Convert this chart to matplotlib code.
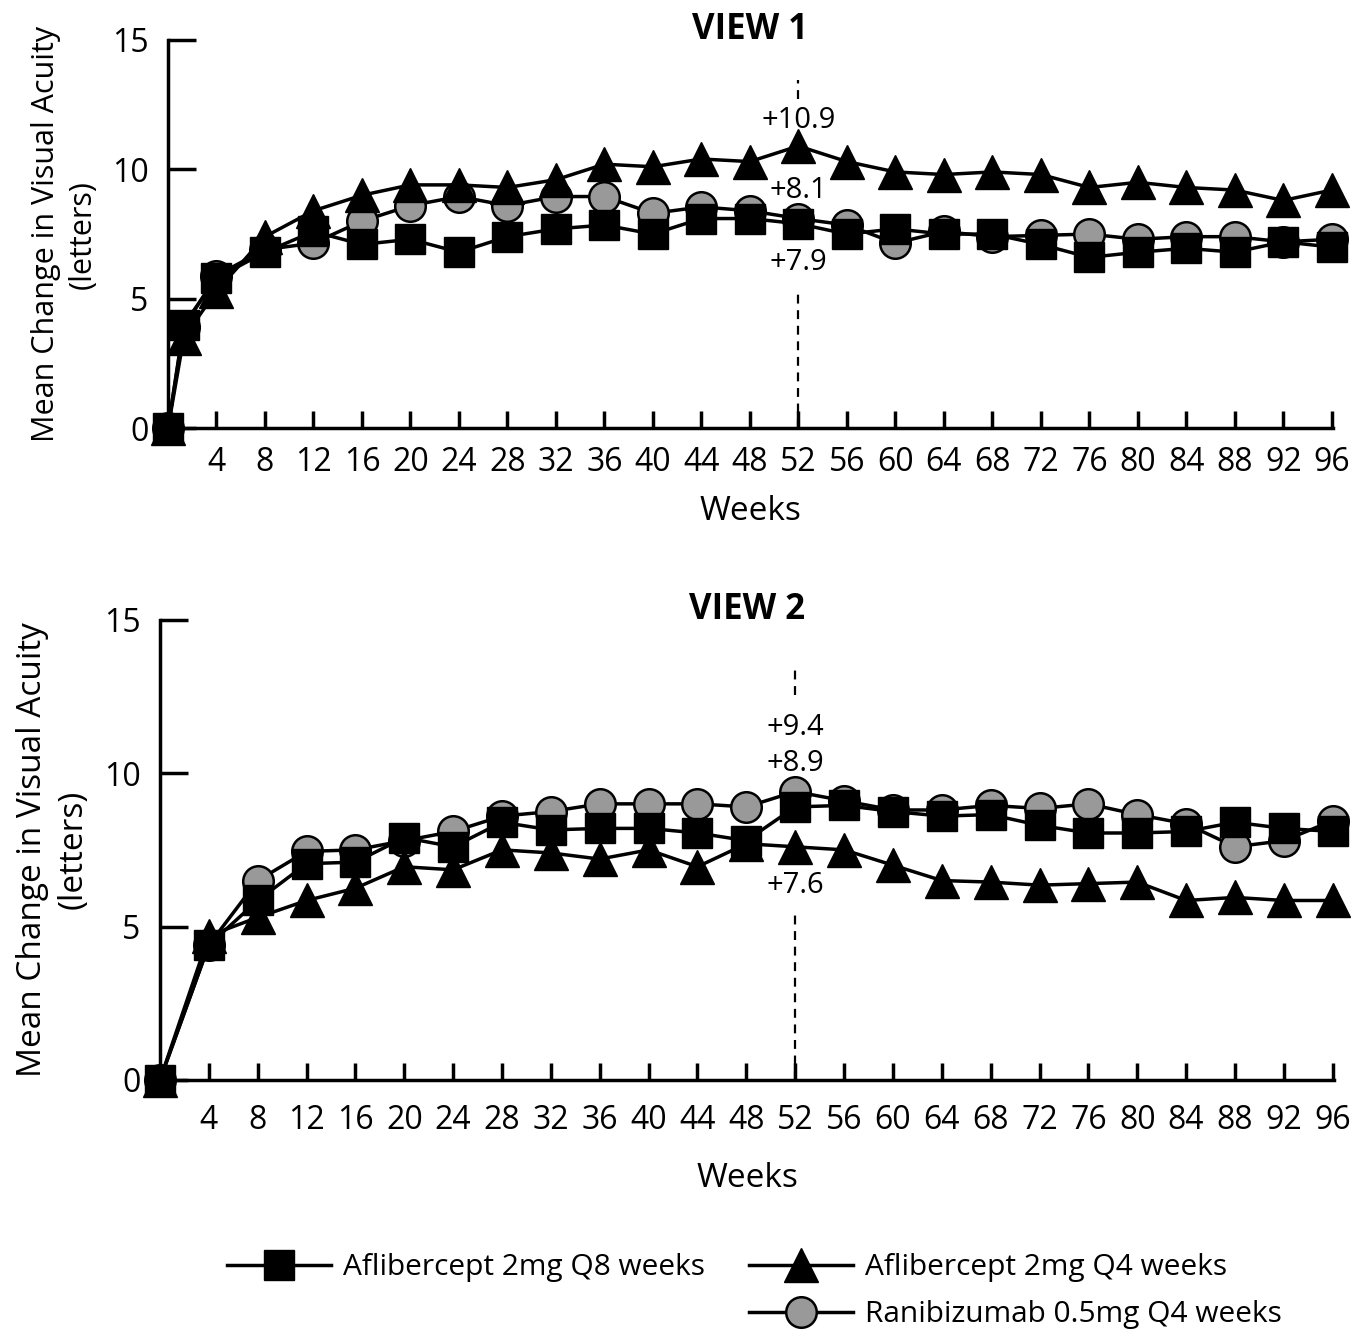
import numpy as np
import matplotlib
matplotlib.use("Agg")
import matplotlib.pyplot as plt
from matplotlib.lines import Line2D

plt.rcParams['font.family'] = ['Open Sans', 'DejaVu Sans']

# Données
weeks_v1 = [0, 1.3, 4, 8, 12, 16, 20, 24, 28, 32, 36, 40, 44, 48, 52, 56, 60, 64, 68, 72, 76, 80, 84, 88, 92, 96]
q8_v1 = [0, 4.0, 5.8, 6.8, 7.6, 7.1, 7.3, 6.8, 7.4, 7.7, 7.85, 7.5, 8.1, 8.1, 7.9,
         7.5, 7.7, 7.5, 7.5, 7.1, 6.6, 6.8, 6.95, 6.8, 7.2, 7.0]
q4_v1 = [0, 3.5, 5.3, 7.4, 8.4, 9.0, 9.4, 9.4, 9.3, 9.6, 10.2, 10.1, 10.4, 10.3, 10.9,
         10.3, 9.9, 9.8, 9.9, 9.8, 9.3, 9.5, 9.3, 9.2, 8.8, 9.2]
rq4_v1 = [0, 3.9, 5.9, 6.9, 7.15, 8.0, 8.6, 8.95, 8.6, 8.95, 8.95, 8.3, 8.55, 8.4, 8.1,
          7.85, 7.15, 7.6, 7.4, 7.45, 7.5, 7.3, 7.4, 7.4, 7.2, 7.3]

weeks_v2 = [0, 4, 8, 12, 16, 20, 24, 28, 32, 36, 40, 44, 48, 52, 56, 60, 64, 68, 72, 76, 80, 84, 88, 92, 96]
q8_v2 = [0, 4.4, 5.85, 7.05, 7.1, 7.9, 7.6, 8.4, 8.15, 8.2, 8.2, 8.05, 7.8, 8.9,
         8.95, 8.75, 8.6, 8.65, 8.3, 8.05, 8.05, 8.1, 8.4, 8.2, 8.1]
q4_v2 = [0, 4.7, 5.3, 5.85, 6.25, 6.95, 6.85, 7.5, 7.4, 7.2, 7.5, 6.95, 7.7, 7.6,
         7.5, 7.0, 6.5, 6.45, 6.35, 6.4, 6.45, 5.85, 5.95, 5.85, 5.85]
rq4_v2 = [0, 4.4, 6.5, 7.45, 7.5, 7.8, 8.1, 8.6, 8.75, 9.0, 9.0, 9.0, 8.9, 9.4,
          9.1, 8.8, 8.8, 8.95, 8.85, 9.0, 8.65, 8.35, 7.6, 7.8, 8.45]

labels_v1 = ["+10.9", "+8.1", "+7.9"]
labels_v2 = ["+9.4", "+8.9", "+7.6"]
noms = ["Aflibercept 2mg Q8 weeks", "Aflibercept 2mg Q4 weeks", "Ranibizumab 0.5mg Q4 weeks"]

fig = plt.figure(figsize=(13.57, 13.30), dpi=100)
ax1 = fig.add_axes([0.1238, 0.678, 0.8585, 0.292])
ax2 = fig.add_axes([0.1179, 0.188, 0.8651, 0.346])

def trace(ax, w, q8, q4, rq4, titre, labs, lab_y, dash_segs, ylab_size, xpad, wpad):
    ax.plot(w, rq4, color='black', lw=2.5, marker='o', ms=22, mfc='#999999', mec='black', mew=1.8,
            zorder=3, clip_on=False)
    ax.plot(w, q4, color='black', lw=2.5, marker='^', ms=24, mfc='black', mec='black',
            zorder=4, clip_on=False)
    ax.plot(w, q8, color='black', lw=2.5, marker='s', ms=22, mfc='black', mec='black',
            zorder=5, clip_on=False)
    for y0, y1 in dash_segs:
        ax.plot([52, 52], [y0, y1], color='black', lw=1.6, ls=(0, (4, 3)), zorder=2, clip_on=False)
    for t, y in zip(labs, lab_y):
        ax.text(52, y, t, ha='center', va='center', fontsize=21)
    ax.set_xlim(0, 96.1)
    ax.set_ylim(0, 15)
    ax.set_xticks(range(4, 97, 4))
    ax.set_yticks([0, 5, 10, 15])
    ax.tick_params(axis='x', direction='in', length=12, width=2.5, labelsize=23, pad=xpad)
    ax.tick_params(axis='y', direction='in', length=20, width=2.5, labelsize=23, pad=14)
    for s in ['top', 'right']:
        ax.spines[s].set_visible(False)
    for s in ['left', 'bottom']:
        ax.spines[s].set_linewidth(2.5)
    ax.set_xlabel("Weeks", fontsize=24, labelpad=wpad)
    ax.set_ylabel("Mean Change in Visual Acuity\n(letters)", fontsize=ylab_size, linespacing=1.3, labelpad=10)
    ax.set_title(titre, fontsize=25, fontweight='bold', y=1.0, pad=0.5)

trace(ax1, weeks_v1, q8_v1, q4_v1, rq4_v1, "VIEW 1", labels_v1, [11.9, 9.2, 6.4],
      [(12.7, 13.45), (0, 5.3)], 22, 13, 11)
trace(ax2, weeks_v2, q8_v2, q4_v2, rq4_v2, "VIEW 2", labels_v2, [11.5, 10.3, 6.35],
      [(12.55, 13.4), (0, 5.4)], 24, 17, 18)

# Légende
h_q8 = Line2D([], [], color='black', lw=2.5, marker='s', ms=22, mfc='black', mec='black')
h_q4 = Line2D([], [], color='black', lw=2.5, marker='^', ms=24, mfc='black', mec='black')
h_r = Line2D([], [], color='black', lw=2.5, marker='o', ms=22, mfc='#999999', mec='black', mew=1.8)
vide = Line2D([], [], color='none')
fig.legend([h_q8, vide, h_q4, h_r], [noms[0], "", noms[1], noms[2]], ncol=2, frameon=False,
           fontsize=21.5, handlelength=3.5, handletextpad=0.4, columnspacing=1.45, labelspacing=0.6,
           loc='center', bbox_to_anchor=(0.556, 0.029))

fig.savefig("out.png", dpi=100)
